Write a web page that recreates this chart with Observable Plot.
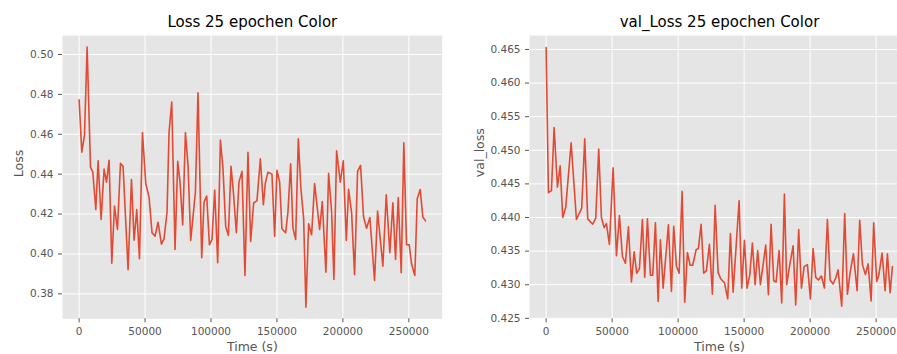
<!DOCTYPE html>
<html>
<head>
<meta charset="utf-8">
<script src="https://cdn.jsdelivr.net/npm/d3@7"></script>
<script src="https://cdn.jsdelivr.net/npm/@observablehq/plot@0.6"></script>
<style>
  html, body { margin: 0; padding: 0; background: #fff; }
  #wrap { position: relative; width: 897px; height: 354px; overflow: hidden; }
  #left { position: absolute; left: 0; top: 0; width: 450px; height: 354px; }
  #right { position: absolute; left: 448px; top: 0; width: 470px; height: 354px; }
  #left svg, #right svg { max-width: none !important; }
</style>
</head>
<body>
<div id="wrap"><div id="left"></div><div id="right"></div></div>
<script>
const lossTime = [0,2050,4090,6060,8640,10380,12650,14400,16670,18940,20760,22730,24770,26820,29090,31360,33330,37120,39700,41670,43710,45760,48030,50530,53030,55300,57580,59850,62420,64390,66670,68180,70230,72730,74770,76520,78560,80610,82580,84620,88180,90150,92950,94700,96740,98790,100760,102800,105080,107120,109090,111140,113180,115150,116970,119240,121210,123480,125760,128030,130080,132350,134850,137420,139700,141210,143180,146210,148260,150000,152050,153790,156590,158330,160380,162120,164170,166210,168180,170230,171970,174020,176290,178560,182350,184390,187120,189170,191440,193180,195230,198030,200300,202580,204320,206590,208860,211140,213410,215680,217950,220460,224020,226290,230300,232880,235610,237880,239920,241970,244240,246210,248260,250300,252050,254550,256360,258640,260610,262650];
const lossValue = [0.4773,0.4510,0.4594,0.5037,0.4435,0.4410,0.4223,0.4467,0.4173,0.4425,0.4360,0.4470,0.3954,0.4240,0.4123,0.4455,0.4439,0.3921,0.4373,0.4069,0.4222,0.3976,0.4608,0.4352,0.4285,0.4106,0.4089,0.4159,0.4049,0.4076,0.4210,0.4611,0.4761,0.4023,0.4464,0.4360,0.4146,0.4608,0.4444,0.4068,0.4310,0.4808,0.3981,0.4260,0.4290,0.4046,0.4073,0.4320,0.3956,0.4571,0.4427,0.4138,0.4093,0.4440,0.4310,0.4106,0.4360,0.4414,0.3892,0.4510,0.4063,0.4257,0.4266,0.4477,0.4247,0.4355,0.4410,0.4400,0.4089,0.4419,0.4360,0.4126,0.4106,0.4210,0.4452,0.4129,0.4073,0.4577,0.4327,0.4179,0.3733,0.4151,0.4096,0.4353,0.4123,0.4263,0.3909,0.4404,0.4213,0.3872,0.4517,0.4360,0.4467,0.4068,0.4324,0.4207,0.3896,0.4414,0.4444,0.4185,0.4129,0.4183,0.3867,0.4215,0.3939,0.4297,0.4006,0.4257,0.3972,0.4283,0.3906,0.4557,0.4046,0.4046,0.3951,0.3892,0.4277,0.4323,0.4185,0.4166];

const valTime = [0,1740,4020,6060,8560,10610,12580,14850,18940,22950,26970,29240,31520,35300,37580,39850,41890,43940,45680,47950,50760,53260,55530,57800,60080,62350,64620,66670,68640,70680,72950,74700,76740,79020,80760,82800,84850,86590,88640,92650,94920,96670,98710,100760,103030,105000,107050,109090,111060,113640,115380,117420,119390,121440,123710,125980,128030,130300,132270,135080,137580,139620,141670,146210,148180,150230,152270,154240,156290,158330,160300,162350,166360,168410,170450,172420,174240,176520,178480,180530,182270,184540,187120,189090,191360,193410,195450,197950,200230,202270,204240,206290,208560,210830,213110,215150,217420,219390,221210,223940,226210,228260,230300,232800,235610,237580,239620,241890,243940,246210,248180,250450,251970,254550,256820,258560,260610,262350];
const valValue = [0.4653,0.4437,0.4440,0.4534,0.4445,0.4477,0.4400,0.4415,0.4511,0.4397,0.4414,0.4517,0.4398,0.4390,0.4399,0.4502,0.4400,0.4385,0.4391,0.4360,0.4474,0.4343,0.4403,0.4342,0.4332,0.4386,0.4304,0.4349,0.4317,0.4324,0.4397,0.4311,0.4398,0.4314,0.4314,0.4392,0.4275,0.4367,0.4295,0.4389,0.4290,0.4387,0.4328,0.4317,0.4439,0.4274,0.4348,0.4329,0.4329,0.4352,0.4354,0.4390,0.4317,0.4321,0.4360,0.4286,0.4418,0.4318,0.4309,0.4303,0.4279,0.4376,0.4289,0.4425,0.4295,0.4366,0.4295,0.4314,0.4362,0.4300,0.4351,0.4300,0.4359,0.4285,0.4390,0.4306,0.4304,0.4351,0.4273,0.4435,0.4300,0.4329,0.4358,0.4270,0.4382,0.4295,0.4327,0.4330,0.4279,0.4354,0.4311,0.4307,0.4313,0.4295,0.4397,0.4307,0.4301,0.4310,0.4322,0.4268,0.4406,0.4286,0.4318,0.4346,0.4291,0.4396,0.4330,0.4315,0.4331,0.4276,0.4392,0.4305,0.4313,0.4347,0.4291,0.4346,0.4288,0.4327];

const xTicks = [0, 50000, 100000, 150000, 200000, 250000];
const lossTicks = [0.38, 0.40, 0.42, 0.44, 0.46, 0.48, 0.50];
const valTicks = [0.425, 0.430, 0.435, 0.440, 0.445, 0.450, 0.455, 0.460, 0.465];

const titles = ["Loss 25 epochen Color", "val_Loss 25 epochen Color"];
const yLabels = ["Loss", "val_loss"];
const xLabel = "Time (s)";

const lossData = lossTime.map((t, i) => ({t, v: lossValue[i]}));
const valData = valTime.map((t, i) => ({t, v: valValue[i]}));

function panel({data, width, marginLeft, marginRight, yDomain, yTicks, yFormat, title, yLabel, yLabelDx}) {
  return Plot.plot({
    width, height: 354,
    marginLeft, marginRight, marginTop: 35, marginBottom: 35.7,
    style: {fontFamily: "DejaVu Sans", fontSize: "10px", background: "transparent", overflow: "visible", maxWidth: "none"},
    x: {domain: [-12600, 275300]},
    y: {domain: yDomain},
    marks: [
      Plot.frame({fill: "#E5E5E5", stroke: null}),
      Plot.gridX(xTicks, {stroke: "#fff", strokeOpacity: 1, strokeWidth: 1}),
      Plot.gridY(yTicks, {stroke: "#fff", strokeOpacity: 1, strokeWidth: 1}),
      Plot.axisX({ticks: xTicks, tickFormat: d3.format("d"), tickSize: 4, tickPadding: 5, color: "#555", fontSize: 10.5, label: null}),
      Plot.axisY({ticks: yTicks, tickFormat: d3.format(yFormat), tickSize: 4, tickPadding: 5, color: "#555", fontSize: 10.5, label: null}),
      Plot.line(data, {x: "t", y: "v", stroke: "#E24A33", strokeWidth: 1.6}),
      Plot.text([title], {frameAnchor: "top", dy: -13, fontSize: 15, fill: "#000", lineAnchor: "middle"}),
      Plot.text([xLabel], {frameAnchor: "bottom", dy: 28, fontSize: 12.5, fill: "#555", lineAnchor: "middle"}),
      Plot.text([yLabel], {frameAnchor: "left", dx: yLabelDx, rotate: -90, fontSize: 12.5, fill: "#555", lineAnchor: "middle"})
    ]
  });
}

document.getElementById("left").appendChild(panel({
  data: lossData, width: 450, marginLeft: 62, marginRight: 8.3,
  yDomain: [0.3675, 0.5095], yTicks: lossTicks, yFormat: ".2f",
  title: titles[0], yLabel: yLabels[0], yLabelDx: -44
}));
document.getElementById("right").appendChild(panel({
  data: valData, width: 470, marginLeft: 81, marginRight: 9,
  yDomain: [0.42493, 0.46708], yTicks: valTicks, yFormat: ".3f",
  title: titles[1], yLabel: yLabels[1], yLabelDx: -50
}));
</script>
</body>
</html>
